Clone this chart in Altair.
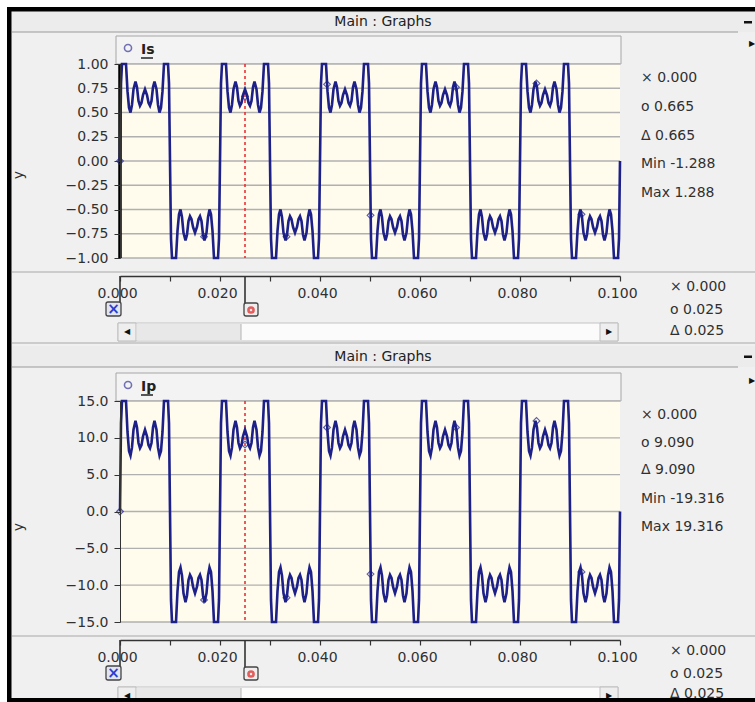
import altair as alt
import pandas as pd

# ------------------------------------------------------------------ data
cycle_start = [0.00, 0.02, 0.04, 0.06, 0.08]
final_t = [0.10]
final_is = [0.0]
final_ip = [0.0]

period_off = [
    0.0000, 0.0002, 0.0004, 0.0007, 0.0010, 0.0012, 0.0015, 0.0018, 0.0021, 0.0024,
    0.0027, 0.0031, 0.0034, 0.0037, 0.0040, 0.0043, 0.0046, 0.0050, 0.0054, 0.0057,
    0.0060, 0.0063, 0.0066, 0.0069, 0.0073, 0.0076, 0.0079, 0.0082, 0.0085, 0.0088,
    0.0090, 0.0093, 0.0096, 0.0098,
    0.0100, 0.0102, 0.0104, 0.0107, 0.0110, 0.0112, 0.0115, 0.0118, 0.0121, 0.0124,
    0.0127, 0.0131, 0.0134, 0.0137, 0.0140, 0.0143, 0.0146, 0.0150, 0.0154, 0.0157,
    0.0160, 0.0163, 0.0166, 0.0169, 0.0173, 0.0176, 0.0179, 0.0182, 0.0185, 0.0188,
    0.0190, 0.0193, 0.0196, 0.0198,
]
is_period = [
    0.00, 0.80, 1.20, 1.288, 1.20, 1.00, 0.72, 0.55, 0.50, 0.58,
    0.74, 0.82, 0.76, 0.62, 0.57, 0.60, 0.68, 0.74, 0.68, 0.60,
    0.57, 0.62, 0.76, 0.82, 0.74, 0.58, 0.50, 0.55, 0.72, 1.00,
    1.20, 1.288, 1.20, 0.80,
    0.00, -0.80, -1.20, -1.288, -1.20, -1.00, -0.72, -0.55, -0.50, -0.58,
    -0.74, -0.82, -0.76, -0.62, -0.57, -0.60, -0.68, -0.74, -0.68, -0.60,
    -0.57, -0.62, -0.76, -0.82, -0.74, -0.58, -0.50, -0.55, -0.72, -1.00,
    -1.20, -1.288, -1.20, -0.80,
]
ip_period = [
    0.0, 12.0, 18.0, 19.316, 18.0, 15.0, 10.8, 8.2, 7.6, 8.7,
    11.1, 12.3, 11.4, 9.3, 8.6, 9.0, 10.2, 11.1, 10.2, 9.0,
    8.6, 9.3, 11.4, 12.3, 11.1, 8.7, 7.6, 8.2, 10.8, 15.0,
    18.0, 19.316, 18.0, 12.0,
    0.0, -12.0, -18.0, -19.316, -18.0, -15.0, -10.8, -8.2, -7.6, -8.7,
    -11.1, -12.3, -11.4, -9.3, -8.6, -9.0, -10.2, -11.1, -10.2, -9.0,
    -8.6, -9.3, -11.4, -12.3, -11.1, -8.7, -7.6, -8.2, -10.8, -15.0,
    -18.0, -19.316, -18.0, -12.0,
]

is_mark_t = [0.000, 0.0168, 0.025, 0.0333, 0.0414, 0.0501, 0.0672, 0.0833, 0.0923]
is_mark_v = [0.00, -0.78, 0.665, -0.78, 0.79, -0.56, 0.76, 0.80, -0.55]
ip_mark_t = [0.000, 0.0168, 0.025, 0.0333, 0.0414, 0.0501, 0.0672, 0.0833, 0.0923]
ip_mark_v = [0.0, -12.0, 9.09, -11.7, 11.4, -8.5, 11.4, 12.3, -8.2]

cursor_x = [0.000]
cursor_o = [0.025]

is_ticks = [-1.0, -0.75, -0.5, -0.25, 0.0, 0.25, 0.5, 0.75, 1.0]
ip_ticks = [-15.0, -10.0, -5.0, 0.0, 5.0, 10.0, 15.0]
t_ticks = [0.0, 0.01, 0.02, 0.03, 0.04, 0.05, 0.06, 0.07, 0.08, 0.09, 0.1]

top_readouts = ["\u00d7 0.000", "o 0.665", "\u0394 0.665", "Min -1.288", "Max 1.288"]
bot_readouts = ["\u00d7 0.000", "o 9.090", "\u0394 9.090", "Min -19.316", "Max 19.316"]
axis_readouts = ["\u00d7 0.000", "o 0.025", "\u0394 0.025"]
panel_title = "Main : Graphs"


def build_series(values, final_v):
    ts, vs = [], []
    for s in cycle_start:
        for o, v in zip(period_off, values):
            ts.append(round(s + o, 6))
            vs.append(v)
    ts += final_t
    vs += final_v
    return pd.DataFrame({"t": ts, "v": vs})


# ------------------------------------------------------------------ style
W, H = 755, 702
FONT = "DejaVu Sans"
FS = 14
NAVY = "#1c2088"
TXT = "#303030"
BG = "#f0f0f0"
PLOT_BG = "#fffbed"
GRID = "#b0b0b0"
XR = [120, 620]
ONE = pd.DataFrame({"k": [0]})


def rect(x1, x2, y1, y2, fill, stroke=None, sw=1.0, r=0):
    kw = {"fill": fill}
    if stroke is None:
        kw["strokeWidth"] = 0
    else:
        kw["stroke"] = stroke
        kw["strokeWidth"] = sw
    if r:
        kw["cornerRadius"] = r
    return alt.Chart(ONE).mark_rect(**kw).encode(
        x=alt.value(x1), x2=alt.value(x2), y=alt.value(y1), y2=alt.value(y2))


def hrule(x1, x2, y, color, w=1.0):
    return alt.Chart(ONE).mark_rule(color=color, strokeWidth=w).encode(
        x=alt.value(x1), x2=alt.value(x2), y=alt.value(y))


def vrule(x, y1, y2, color, w=1.0):
    return alt.Chart(ONE).mark_rule(color=color, strokeWidth=w).encode(
        x=alt.value(x), y=alt.value(y1), y2=alt.value(y2))


def text(x, y, s, size=FS, color=TXT, align="left", weight="normal", angle=None):
    kw = dict(text=s, fontSize=size, color=color, align=align, baseline="middle",
              font=FONT, fontWeight=weight)
    if angle is not None:
        kw["angle"] = angle
    return alt.Chart(ONE).mark_text(**kw).encode(x=alt.value(x), y=alt.value(y))


def xscale():
    return alt.Scale(domain=[0.0, 0.1], range=XR, nice=False, zero=False)


def panel(g, df_line, mt, mv, ydom, yticks, yfmt, name, readouts, thick_cursor):
    def yscale():
        return alt.Scale(domain=ydom, range=[g["pb"], g["pt"]], nice=False,
                         zero=False, clamp=True)

    L = []
    # title bar
    L.append(rect(12, W, g["tb0"], g["tb1"], "#ececec"))
    L.append(hrule(12, 738, g["tb1"], "#9a9a9a", 1))
    L.append(text(383, (g["tb0"] + g["tb1"]) / 2, panel_title, size=FS, color="#222", align="center"))
    L.append(rect(744, 752, (g["tb0"] + g["tb1"]) / 2 - 1, (g["tb0"] + g["tb1"]) / 2 + 1.5, "#111"))
    L.append(text(752, g["lg0"] + 8, "\u25b6", size=8, color="#111", align="center"))
    # legend header box
    L.append(rect(116, 621, g["lg0"], g["pt"], "#f3f3f3", stroke="#a6a6a6", sw=1))
    L.append(alt.Chart(ONE).mark_point(shape="circle", filled=False, stroke="#3a3a9a",
                                       strokeWidth=1.6, size=50).encode(
        x=alt.value(128), y=alt.value(g["lg0"] + 12)))
    L.append(text(141, g["lg0"] + 14, name, size=FS, color="#222", weight="bold"))
    L.append(hrule(141, 153, g["lg0"] + 22, "#222", 1.5))
    # plot background
    L.append(rect(XR[0], XR[1], g["pt"], g["pb"], PLOT_BG))
    # grid + y axis
    L.append(alt.Chart(pd.DataFrame({"v": yticks})).mark_rule(color=GRID, strokeWidth=1.3).encode(
        y=alt.Y("v:Q", scale=yscale(),
                axis=alt.Axis(orient="left", offset=-XR[0], values=yticks, format=yfmt,
                              grid=False, domainColor="#333", domainWidth=1,
                              tickColor="#333", tickSize=6, tickWidth=1,
                              labelFont=FONT, labelFontSize=FS, labelColor=TXT,
                              labelPadding=6, labelOverlap=False, title=None, zindex=2)),
        x=alt.value(XR[0]), x2=alt.value(XR[1])))
    # red dashed cursor
    L.append(alt.Chart(pd.DataFrame({"t": cursor_o})).mark_rule(
        color="#e8262a", strokeWidth=1.5, strokeDash=[3, 3]).encode(
        x=alt.X("t:Q", scale=xscale(), axis=None),
        y=alt.value(g["pt"]), y2=alt.value(g["pb"])))
    if thick_cursor:
        L.append(alt.Chart(pd.DataFrame({"t": cursor_x})).mark_rule(
            color="#000", strokeWidth=3.5).encode(
            x=alt.X("t:Q", scale=xscale(), axis=None),
            y=alt.value(g["pt"]), y2=alt.value(g["pb"])))
    # waveform + x axis
    L.append(alt.Chart(df_line).mark_line(color=NAVY, strokeWidth=2.6).encode(
        x=alt.X("t:Q", scale=xscale(),
                axis=alt.Axis(orient="bottom", offset=g["ax"] - H, values=t_ticks,
                              labelExpr="round(datum.value * 100) % 2 == 0 ? format(datum.value, '.3f') : ''",
                              grid=False, domainColor="#333", domainWidth=1.5,
                              tickColor="#333", tickSize=5, tickWidth=1.2,
                              labelFont=FONT, labelFontSize=FS, labelColor=TXT,
                              labelPadding=5, labelFlush=False, labelOverlap=False,
                              labelOffset=-3, title=None, zindex=1)),
        y=alt.Y("v:Q", scale=yscale(), axis=None)))
    # markers
    L.append(alt.Chart(pd.DataFrame({"t": mt, "v": mv})).mark_point(
        shape="diamond", filled=False, color=NAVY, strokeWidth=1.2, size=45).encode(
        x=alt.X("t:Q", scale=xscale(), axis=None),
        y=alt.Y("v:Q", scale=yscale(), axis=None)))
    # readouts
    for i, s in enumerate(readouts):
        L.append(text(641, g["ro"][i], s, size=FS, color=TXT))
    # y title
    L.append(text(19, g["yt"], "y", size=FS, color=TXT, align="center", angle=270))
    # separator between plot and x axis
    L.append(hrule(12, W, g["sep"], "#a8a8a8", 1))
    # cursor flags
    cx = pd.DataFrame({"t": cursor_x})
    co = pd.DataFrame({"t": cursor_o})
    xe = alt.X("t:Q", scale=xscale(), axis=None)
    L.append(alt.Chart(cx).mark_rule(color="#333", strokeWidth=1.6).encode(
        x=xe, y=alt.value(g["ax"]), y2=alt.value(g["fb1"])))
    L.append(alt.Chart(cx).mark_rect(xOffset=-14, x2Offset=1, cornerRadius=2, fill="#e2e4ee",
                                     stroke="#444", strokeWidth=1.3).encode(
        x=xe, x2=alt.X2("t:Q"), y=alt.value(g["fb0"]), y2=alt.value(g["fb1"])))
    L.append(alt.Chart(cx).mark_text(text="\u00d7", color="#2a3fd0", fontSize=15, fontWeight="bold",
                                     xOffset=-6.5, align="center", baseline="middle", font=FONT).encode(
        x=xe, y=alt.value((g["fb0"] + g["fb1"]) / 2)))
    L.append(alt.Chart(co).mark_rule(color="#333", strokeWidth=1.6).encode(
        x=xe, y=alt.value(g["ax"]), y2=alt.value(g["fb1"])))
    L.append(alt.Chart(co).mark_rect(xOffset=-1, x2Offset=13, cornerRadius=2, fill="#eeeeee",
                                     stroke="#444", strokeWidth=1.3).encode(
        x=xe, x2=alt.X2("t:Q"), y=alt.value(g["fb0"] + 1), y2=alt.value(g["fb1"])))
    L.append(alt.Chart(co).mark_point(shape="circle", filled=False, stroke="#e02020",
                                      strokeWidth=2.6, size=26, xOffset=6).encode(
        x=xe, y=alt.value((g["fb0"] + g["fb1"]) / 2 + 1)))
    # axis readouts
    for i, s in enumerate(axis_readouts):
        L.append(text(670, g["aro"][i], s, size=FS, color=TXT))
    # scrollbar
    s0, s1 = g["sb0"], g["sb1"]
    L.append(rect(118, 618, s0, s1, "#fbfbfb", stroke="#c4c4c4", sw=1))
    L.append(rect(137, 241, s0 + 1, s1 - 1, "#e8e8e8"))
    L.append(vrule(241, s0 + 1, s1 - 1, "#b4b4b4", 1))
    L.append(rect(118, 136, s0, s1, "#eeeeee", stroke="#bdbdbd", sw=1))
    L.append(text(127, (s0 + s1) / 2, "\u25c0", size=8, color="#111", align="center"))
    L.append(rect(600, 618, s0, s1, "#eeeeee", stroke="#bdbdbd", sw=1))
    L.append(text(609, (s0 + s1) / 2, "\u25b6", size=8, color="#111", align="center"))
    return L


g_top = dict(tb0=12, tb1=32, lg0=36, pt=64, pb=258, sep=272, ax=276, fb0=302, fb1=316,
             sb0=323, sb1=341, ro=[78, 107, 136, 164, 193], aro=[287, 310, 331], yt=175)
g_bot = dict(tb0=346, tb1=367, lg0=373, pt=401, pb=622, sep=636, ax=640, fb0=666, fb1=680,
             sb0=687, sb1=705, ro=[415, 443, 470, 499, 527], aro=[651, 674, 694], yt=527)

layers = [rect(0, W, 0, H, BG)]
layers += panel(g_top, build_series(is_period, final_is), is_mark_t, is_mark_v,
                [-1.0, 1.0], is_ticks, ".2f", "Is", top_readouts, True)
layers.append(hrule(12, W, 343, "#a8a8a8", 1))
layers += panel(g_bot, build_series(ip_period, final_ip), ip_mark_t, ip_mark_v,
                [-15.0, 15.0], ip_ticks, ".1f", "Ip", bot_readouts, False)
# outer frame
layers += [
    rect(0, W, 0, 7, "#ffffff"),
    rect(0, 7, 0, H, "#ffffff"),
    rect(7, W, 7, 11.5, "#000000"),
    rect(7, 11.5, 7, H, "#000000"),
    rect(7, W, 698, H, "#000000"),
]

chart = alt.layer(*layers).resolve_scale(x="independent", y="independent").properties(
    width=W, height=H, padding=0, background=BG,
    autosize=alt.AutoSizeParams(type="none"),
).configure_view(stroke=None)

chart.save("out.html", embed_options={"renderer": "svg", "actions": False})
